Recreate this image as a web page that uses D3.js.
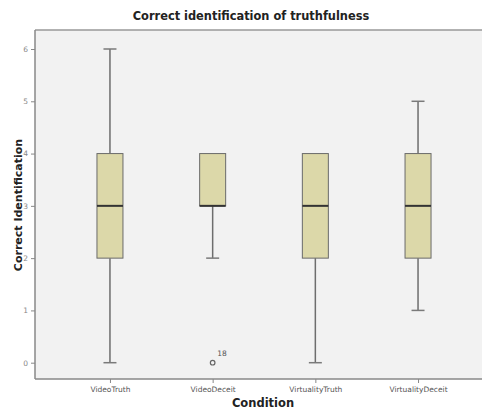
<!DOCTYPE html>
<html>
<head>
<meta charset="utf-8">
<script src="https://cdn.jsdelivr.net/npm/d3@7"></script>
<style>
  body { margin: 0; background: #fff; }
  text { font-family: "DejaVu Sans", sans-serif; }
</style>
</head>
<body>
<div id="chart"></div>
<script>
// box plot stats
var conditions = ["VideoTruth", "VideoDeceit", "VirtualityTruth", "VirtualityDeceit"];
var whiskerLow  = [0, 2, 0, 1];
var q1          = [2, 3, 2, 2];
var medians     = [3, 3, 3, 3];
var q3          = [4, 4, 4, 4];
var whiskerHigh = [6, 4, 4, 5];
// outliers: condition, value, case label
var outliers = [{cond: "VideoDeceit", val: 0, label: "18"}];
var yTicks = [0, 1, 2, 3, 4, 5, 6];

var svgWidth = 482, svgHeight = 412;
var plot = {left: 35, top: 30, bottom: 379, right: 493};

var svg = d3.select("#chart").append("svg")
    .attr("width", svgWidth).attr("height", svgHeight);

// background of plot area
svg.append("rect")
    .attr("x", plot.left).attr("y", plot.top)
    .attr("width", plot.right - plot.left).attr("height", plot.bottom - plot.top)
    .attr("fill", "#f2f2f2");

var x = d3.scalePoint().domain(conditions).range([plot.left, plot.right]).padding(0.73);
var y = d3.scaleLinear().domain([0, 6]).range([362.7, 49]);

var boxes = conditions.map(function(c, i) {
    return {cond: c, lo: whiskerLow[i], q1: q1[i], med: medians[i], q3: q3[i], hi: whiskerHigh[i]};
});

var boxW = 26, capW = 13;
var g = svg.append("g");

// whiskers
g.selectAll(".wl").data(boxes.filter(d => d.lo < d.q1)).enter().append("line")
    .attr("x1", d => x(d.cond)).attr("x2", d => x(d.cond))
    .attr("y1", d => y(d.q1)).attr("y2", d => y(d.lo))
    .attr("stroke", "#6e6e6e").attr("stroke-width", 1.5);
g.selectAll(".wh").data(boxes.filter(d => d.hi > d.q3)).enter().append("line")
    .attr("x1", d => x(d.cond)).attr("x2", d => x(d.cond))
    .attr("y1", d => y(d.q3)).attr("y2", d => y(d.hi))
    .attr("stroke", "#6e6e6e").attr("stroke-width", 1.5);
// caps
g.selectAll(".cl").data(boxes.filter(d => d.lo < d.q1)).enter().append("line")
    .attr("x1", d => x(d.cond) - capW / 2).attr("x2", d => x(d.cond) + capW / 2)
    .attr("y1", d => y(d.lo)).attr("y2", d => y(d.lo))
    .attr("stroke", "#7a7a7a").attr("stroke-width", 1.5);
g.selectAll(".ch").data(boxes.filter(d => d.hi > d.q3)).enter().append("line")
    .attr("x1", d => x(d.cond) - capW / 2).attr("x2", d => x(d.cond) + capW / 2)
    .attr("y1", d => y(d.hi)).attr("y2", d => y(d.hi))
    .attr("stroke", "#7a7a7a").attr("stroke-width", 1.5);

// boxes
g.selectAll(".box").data(boxes).enter().append("rect")
    .attr("x", d => x(d.cond) - boxW / 2)
    .attr("y", d => y(d.q3))
    .attr("width", boxW)
    .attr("height", d => y(d.q1) - y(d.q3))
    .attr("fill", "#dcd8a9")
    .attr("stroke", "#6a6a6a").attr("stroke-width", 1);

// medians
g.selectAll(".med").data(boxes).enter().append("line")
    .attr("x1", d => x(d.cond) - boxW / 2).attr("x2", d => x(d.cond) + boxW / 2)
    .attr("y1", d => y(d.med)).attr("y2", d => y(d.med))
    .attr("stroke", "#333").attr("stroke-width", 2);

// outliers
g.selectAll(".out").data(outliers).enter().append("circle")
    .attr("cx", d => x(d.cond)).attr("cy", d => y(d.val)).attr("r", 2.3)
    .attr("fill", "none").attr("stroke", "#666").attr("stroke-width", 1.2);
g.selectAll(".outlab").data(outliers).enter().append("text")
    .attr("x", d => x(d.cond) + 4.5).attr("y", d => y(d.val) - 6.5)
    .attr("font-size", 7.5).attr("fill", "#555")
    .text(d => d.label);

// axes
var yAxis = d3.axisLeft(y).tickValues(yTicks).tickSize(4).tickPadding(3).tickFormat(d3.format("d"));
var ya = svg.append("g").attr("transform", `translate(${plot.left},0)`).call(yAxis);
ya.select(".domain").remove();
ya.selectAll("line").attr("stroke", "#888");
ya.selectAll("text").attr("font-size", 7.5).attr("fill", "#888");

var xAxis = d3.axisBottom(x).tickSize(4).tickPadding(4);
var xa = svg.append("g").attr("transform", `translate(0,${plot.bottom})`).call(xAxis);
xa.select(".domain").remove();
xa.selectAll("line").attr("stroke", "#888");
xa.selectAll("text").attr("font-size", 7.5).attr("fill", "#555");

// frame
svg.append("line").attr("x1", plot.left).attr("x2", plot.right)
    .attr("y1", plot.top).attr("y2", plot.top).attr("stroke", "#999").attr("stroke-width", 1.5);
svg.append("line").attr("x1", plot.left).attr("x2", plot.left)
    .attr("y1", plot.top).attr("y2", plot.bottom).attr("stroke", "#888").attr("stroke-width", 1.5);
svg.append("line").attr("x1", plot.left).attr("x2", plot.right)
    .attr("y1", plot.bottom).attr("y2", plot.bottom).attr("stroke", "#888").attr("stroke-width", 1.5);

// title and axis labels
svg.append("text").attr("x", 251).attr("y", 20).attr("text-anchor", "middle")
    .attr("font-size", 11.4).attr("font-weight", "bold").attr("fill", "#222")
    .text("Correct identification of truthfulness");
svg.append("text").attr("x", 263).attr("y", 407).attr("text-anchor", "middle")
    .attr("font-size", 11.5).attr("font-weight", "bold").attr("fill", "#222")
    .text("Condition");
svg.append("text").attr("transform", "translate(22,205) rotate(-90)").attr("text-anchor", "middle")
    .attr("font-size", 11).attr("font-weight", "bold").attr("fill", "#222")
    .text("Correct Identification");
</script>
</body>
</html>
